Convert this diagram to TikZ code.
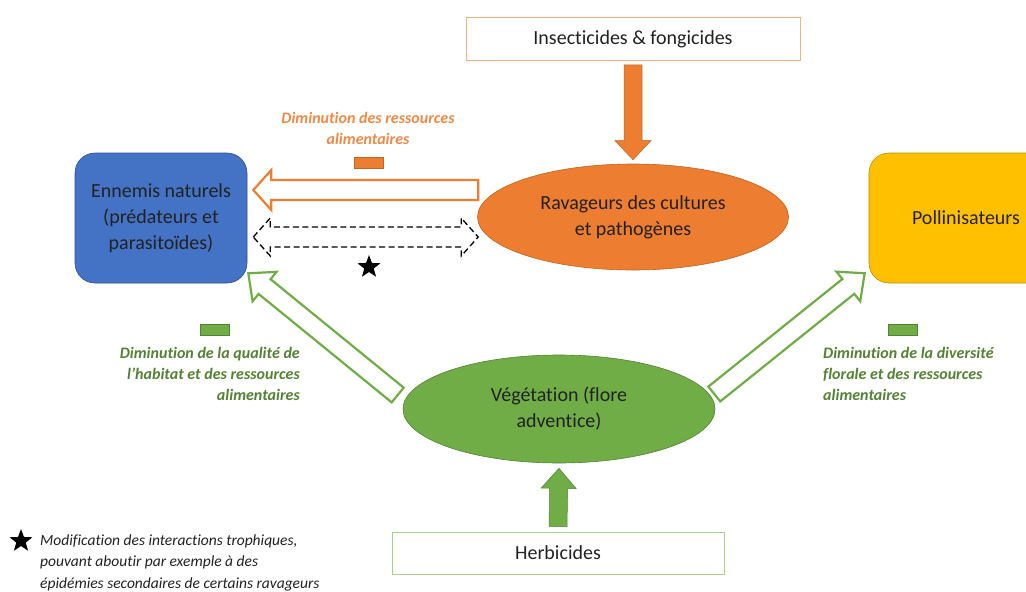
\documentclass[tikz,border=0pt]{standalone}
\usepackage{fontspec}
\setmainfont{Carlito}[Ligatures=NoCommon]
\usepackage{tikz}
\usepackage{xcolor}
\usetikzlibrary{arrows.meta,positioning,shapes,calc}
\definecolor{ink}{HTML}{222222}
\definecolor{orgfill}{HTML}{ED7D31}
\definecolor{orgline}{HTML}{C0651F}
\definecolor{orglight}{HTML}{F4B183}
\definecolor{orglab}{HTML}{EE8A48}
\definecolor{grnfill}{HTML}{70AD47}
\definecolor{grnline}{HTML}{548235}
\definecolor{grnlight}{HTML}{A9D18E}
\definecolor{grnlab}{HTML}{548235}
\definecolor{blufill}{HTML}{4472C4}
\definecolor{bluline}{HTML}{2F528F}
\definecolor{yelfill}{HTML}{FFC000}
\definecolor{yelline}{HTML}{BC8C00}
\tikzset{
  mainfont/.style={font=\fontsize{20}{26}\selectfont,text=ink},
  plainbox/.style={mainfont,fill=white,line width=0.9pt,
                   minimum height=43pt,align=center,inner sep=3pt},
  groupbox/.style={mainfont,rounded corners=20pt,line width=0.6pt,
                   minimum width=172pt,minimum height=130pt,align=center},
  blobnode/.style={mainfont,ellipse,line width=0.6pt,align=center},
  minusbox/.style={minimum width=29pt,minimum height=11pt,inner sep=0pt,line width=0.5pt},
  effect/.style={font=\fontsize{16}{21}\selectfont\bfseries\itshape,inner sep=0pt},
  hollowarr/.style={fill=white,line width=2.2pt,line join=miter},
  solidarr/.style={line width=0.5pt,line join=miter},
  starmark/.style={star,star points=5,star point ratio=2.4,fill=black,
                   minimum size=24pt,inner sep=0pt}
}
% block arrow: [style]{from}{to}{half shaft}{half head}{head length}
\newcommand{\blockarr}[6][]{%
  \coordinate (ba-n) at ($(#3)!#6!(#2)$);
  \draw[#1] ($(#2)!#4!90:(#3)$) -- ($(ba-n)!#4!-90:(#2)$) -- ($(ba-n)!#5!-90:(#2)$)
    -- (#3) -- ($(ba-n)!#5!90:(#2)$) -- ($(ba-n)!#4!90:(#2)$)
    -- ($(#2)!#4!-90:(#3)$) -- cycle;}
% double block arrow, same arguments
\newcommand{\dblarr}[6][]{%
  \coordinate (da-a) at ($(#2)!#6!(#3)$);
  \coordinate (da-b) at ($(#3)!#6!(#2)$);
  \draw[#1] (#2) -- ($(da-a)!#5!90:(#3)$) -- ($(da-a)!#4!90:(#3)$)
    -- ($(da-b)!#4!-90:(#2)$) -- ($(da-b)!#5!-90:(#2)$) -- (#3)
    -- ($(da-b)!#5!90:(#2)$) -- ($(da-b)!#4!90:(#2)$)
    -- ($(da-a)!#4!-90:(#3)$) -- ($(da-a)!#5!-90:(#3)$) -- cycle;}
\begin{document}
\begin{tikzpicture}[x=1pt,y=-1pt]
  \useasboundingbox[fill=white] (0,0) rectangle (1026,592);
  % main boxes
  \node[plainbox,draw=orglight,minimum width=334pt] (insect) at (633,39) {Insecticides \& fongicides};
  \node[groupbox,draw=bluline,fill=blufill] (ennemis) at (161,218) {Ennemis naturels\\(prédateurs et\\parasitoïdes)};
  \node[groupbox,draw=yelline,fill=yelfill,minimum width=194pt] (pollin) at (966,218) {Pollinisateurs};
  \node[blobnode,draw=orgline,fill=orgfill,minimum width=311pt,minimum height=106pt] (rav) at (633,217) {Ravageurs des cultures\\et pathogènes};
  \node[blobnode,draw=grnline,fill=grnfill,minimum width=312pt,minimum height=108pt] (veget) at (559,409) {Végétation (flore\\adventice)};
  \node[plainbox,draw=grnlight,minimum width=332pt,minimum height=42pt] (herbi) at (558,553) {Herbicides};

  % effect labels
  \node[minusbox,draw=orgline,fill=orgfill] (minusrav) at (368.5,163) {};
  \node[effect,text=orglab,align=center] (labrav) at (368,128) {Diminution des ressources\\alimentaires};
  \node[minusbox,draw=grnline,fill=grnfill] (minusen) at (214.5,330) {};
  \node[effect,text=grnlab,align=right,anchor=east] (laben) at (300,374) {Diminution de la qualité de\\l’habitat et des ressources\\alimentaires};
  \node[minusbox,draw=grnline,fill=grnfill] (minuspol) at (902.5,330) {};
  \node[effect,text=grnlab,align=left,anchor=west] (labpol) at (823,374) {Diminution de la diversité\\florale et des ressources\\alimentaires};

  % arrows
  \coordinate (insbot) at ($(insect.south)+(0,4)$);
  \coordinate (ravtop) at ($(rav.north)+(0,-4)$);
  \blockarr[solidarr,draw=orgline,fill=orgfill]{insbot}{ravtop}{9pt}{18pt}{19pt}
  \coordinate (herbtop) at ($(herbi.north)+(0,-5)$);
  \coordinate (vegbot) at ($(veget.south)+(0,5)$);
  \blockarr[solidarr,draw=grnline,fill=grnfill]{herbtop}{vegbot}{9pt}{17.5pt}{20pt}
  \coordinate (ravout) at ($(rav.west)+(1,-27)$);
  \coordinate (enin) at ($(ennemis.east)+(6,-28)$);
  \blockarr[hollowarr,draw=orgfill]{ravout}{enin}{10pt}{20pt}{18pt}
  \coordinate (trophl) at ($(ennemis.east)+(6,19)$);
  \coordinate (trophr) at ($(rav.west)+(1,20)$);
  \dblarr[line width=1.3pt,dash pattern=on 6pt off 3.5pt,fill=white]{trophl}{trophr}{10pt}{19pt}{17pt}
  \coordinate (vegl) at ($(veget.west)+(-5,-14)$);
  \coordinate (ensw) at ($(ennemis.south east)+(1,-10)$);
  \blockarr[hollowarr,draw=grnfill]{vegl}{ensw}{9.5pt}{19pt}{21pt}
  \coordinate (vegr) at ($(veget.east)+(-1,-15)$);
  \coordinate (polsw) at ($(pollin.south west)+(-4,-10)$);
  \blockarr[hollowarr,draw=grnfill]{vegr}{polsw}{9.5pt}{19pt}{21pt}

  % star and footnote
  \node[starmark] (troph) at (369,267) {};
  \node[starmark] (fstar) at (21,541) {};
  \node[font=\fontsize{15.5}{21.5}\selectfont\itshape,text=ink,align=left,anchor=west,inner sep=0pt] (fnote) at (40,562.5) {Modification des interactions trophiques,\\pouvant aboutir par exemple à des\\épidémies secondaires de certains ravageurs};
\end{tikzpicture}
\end{document}
